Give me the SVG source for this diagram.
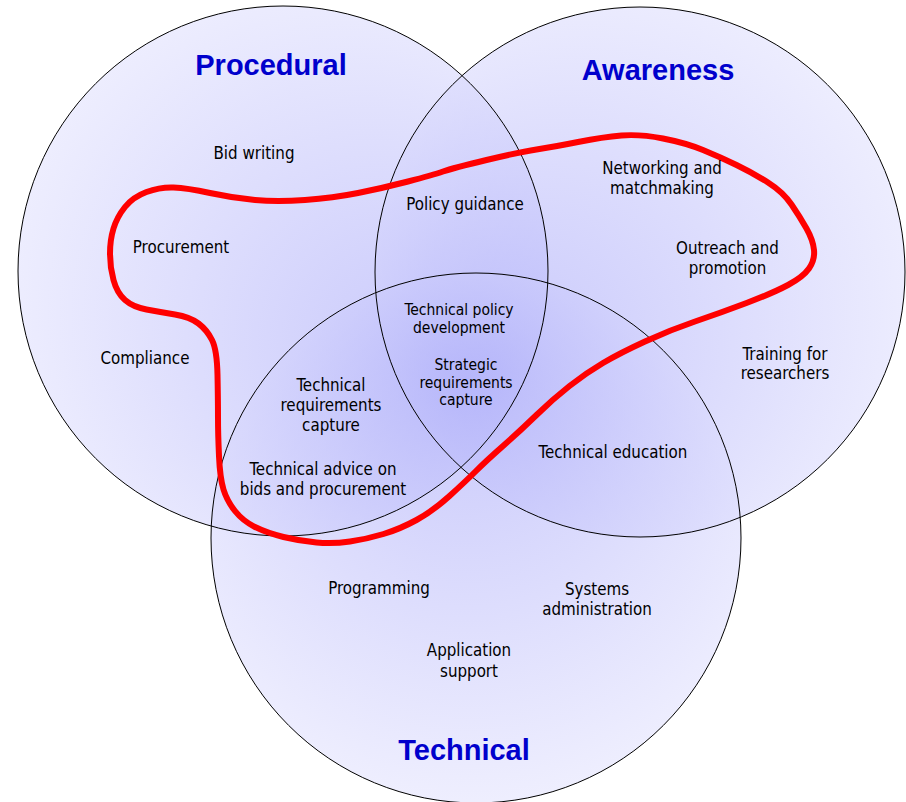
<svg xmlns="http://www.w3.org/2000/svg" width="906" height="802" viewBox="0 0 906 802">
<defs>
<radialGradient id="gP" gradientUnits="userSpaceOnUse" cx="330" cy="300" r="340" fx="430" fy="370">
<stop offset="0" stop-color="#B2B2FA"/><stop offset="1" stop-color="#E8E8FE"/>
</radialGradient>
<radialGradient id="gA" gradientUnits="userSpaceOnUse" cx="600" cy="300" r="340" fx="500" fy="370">
<stop offset="0" stop-color="#B2B2FA"/><stop offset="1" stop-color="#E8E8FE"/>
</radialGradient>
<radialGradient id="gT" gradientUnits="userSpaceOnUse" cx="470" cy="470" r="340" fx="466" fy="380">
<stop offset="0" stop-color="#B2B2FA"/><stop offset="1" stop-color="#E8E8FE"/>
</radialGradient>
</defs>
<style>
.fill{stroke:none;fill-opacity:0.7}
.ol{fill:none;stroke:#000;stroke-width:1}
.title{font-family:"Liberation Sans",Arial,sans-serif;font-weight:bold;font-size:29px;fill:#0000CC;text-anchor:middle}
.t{font-family:"DejaVu Sans Condensed","DejaVu Sans",sans-serif;font-stretch:condensed;font-size:16.8px;fill:#000;text-anchor:middle}
.s{font-family:"DejaVu Sans Condensed","DejaVu Sans",sans-serif;font-stretch:condensed;font-size:15.5px;fill:#000;text-anchor:middle}
.loop{fill:none;stroke:#FF0000;stroke-width:6;stroke-linejoin:round}
</style>
<rect width="906" height="802" fill="#FFFFFF"/>
<g id="procedural">
<circle class="fill" cx="283" cy="271" r="265" fill="url(#gP)"/>
</g>
<g id="awareness">
<circle class="fill" cx="640" cy="272" r="265" fill="url(#gA)"/>
</g>
<g id="technical">
<circle class="fill" cx="476" cy="538" r="265" fill="url(#gT)"/>
</g>
<g id="outlines">
<circle class="ol" cx="283" cy="271" r="265"/>
<circle class="ol" cx="640" cy="272" r="265"/>
<circle class="ol" cx="476" cy="538" r="265"/>
</g>
<g id="connectors">
<path class="loop" d="M486.5,160 Q520,152 536.5,149.5 Q553,147 578,142 Q603,137 621.5,135.5 Q640,134 663,138.5 Q686,143 703,150 Q720,157 736.5,165 Q753,173 768,182.5 Q783,192 791.5,204.5 Q800,217 806.5,228.5 Q813,240 814,250 Q815,260 809,268.5 Q803,277 788,285 Q773,293 746.5,303 Q720,313 695,321.5 Q670,330 645,341.5 Q620,353 603,363 Q586,373 569.5,386 Q553,399 536.5,415 Q520,431 503,446 Q486,461 476,471 Q466,481 449.5,496 Q433,511 416.5,520 Q400,529 383.5,534 Q367,539 350,541.5 Q333,544 316.5,542.5 Q300,541 283.5,537 Q267,533 255,527 Q243,521 235,511 Q227,501 223.5,489.5 Q220,478 219,456 Q218,434 218,417 Q218,400 217.5,375 Q217,350 212,340 Q207,330 198.5,323.5 Q190,317 175,314.5 Q160,312 146.5,309.5 Q133,307 125,300 Q117,293 113.5,280 Q110,267 110,253.5 Q110,240 113.5,228.5 Q117,217 125,207 Q133,197 146.5,192 Q160,187 173.5,187.5 Q187,188 210,193 Q233,198 255,200 Q277,202 305,200 Q333,198 358,193 Q383,188 408,181.5 Q433,175 443,171.5 Q453,168 486.5,160 Z"/>
</g>
<g id="title-procedural"><text class="title" x="271" y="75">Procedural</text></g>
<g id="title-awareness"><text class="title" x="658" y="80">Awareness</text></g>
<g id="title-technical"><text class="title" x="464" y="760">Technical</text></g>
<g id="bid-writing"><text class="t" x="254" y="159">Bid writing</text></g>
<g id="procurement"><text class="t" x="181" y="253">Procurement</text></g>
<g id="compliance"><text class="t" x="145" y="364">Compliance</text></g>
<g id="policy-guidance"><text class="t" x="465" y="210">Policy guidance</text></g>
<g id="networking"><text class="t" x="662" y="174">Networking and</text><text class="t" x="662" y="194">matchmaking</text></g>
<g id="outreach"><text class="t" x="727.5" y="254">Outreach and</text><text class="t" x="727.5" y="274">promotion</text></g>
<g id="training"><text class="t" x="785" y="360">Training for</text><text class="t" x="785" y="379">researchers</text></g>
<g id="tech-policy"><text class="s" x="459" y="315">Technical policy</text><text class="s" x="459" y="332.5">development</text></g>
<g id="strategic"><text class="s" x="466" y="370">Strategic</text><text class="s" x="466" y="387.5">requirements</text><text class="s" x="466" y="405">capture</text></g>
<g id="tech-req"><text class="t" x="331" y="391">Technical</text><text class="t" x="331" y="411">requirements</text><text class="t" x="331" y="431">capture</text></g>
<g id="tech-advice"><text class="t" x="323" y="475">Technical advice on</text><text class="t" x="323" y="495">bids and procurement</text></g>
<g id="tech-education"><text class="t" x="613" y="458">Technical education</text></g>
<g id="programming"><text class="t" x="379" y="594">Programming</text></g>
<g id="sysadmin"><text class="t" x="597" y="595">Systems</text><text class="t" x="597" y="615">administration</text></g>
<g id="app-support"><text class="t" x="469" y="656">Application</text><text class="t" x="469" y="677">support</text></g>
</svg>
